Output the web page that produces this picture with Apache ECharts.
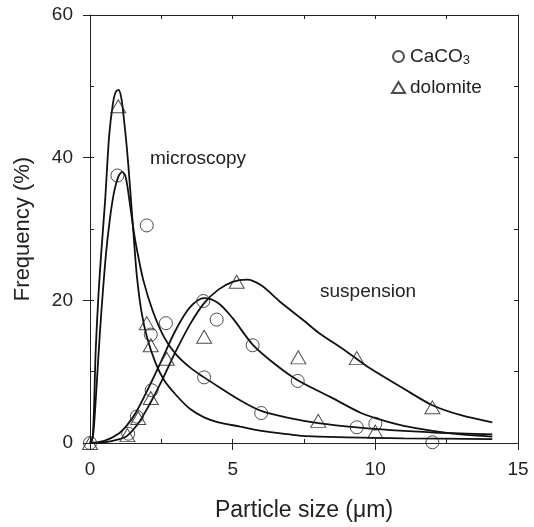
<!DOCTYPE html>
<html><head><meta charset="utf-8">
<script src="https://cdn.jsdelivr.net/npm/echarts@6/dist/echarts.min.js"></script>
<style>html,body{margin:0;padding:0;background:#fff}#c{width:534px;height:527px}</style>
</head><body><div id="c"></div>
<script>
// Data
const xTickLabels = ['0', '5', '10', '15'];
const yTickLabels = ['0', '20', '40', '60'];
const seriesNames = ['CaCO3', 'dolomite'];
const annotations = ['microscopy', 'suspension'];

const caco3Points = [[0,0],[0.96,37.5],[1.99,30.5],[2.13,15.2],[2.66,16.8],[2.16,7.4],[1.64,3.7],[1.34,1.3],[3.97,19.9],[4.44,17.3],[5.70,13.7],[7.28,8.7],[6.0,4.2],[9.35,2.2],[10.0,2.7],[12.0,0.1],[4.0,9.2]];
const dolomitePoints = [[0,0],[0.99,47.2],[1.99,16.8],[2.13,13.7],[2.69,11.8],[2.13,6.3],[1.69,3.5],[1.31,1.1],[5.14,22.6],[4.0,14.9],[7.3,12.0],[9.35,11.9],[8.0,3.1],[10.0,1.6],[12.0,5.0]];

const dolomiteMicroCurve = [[0,0],[0.1,1],[0.2,13],[0.3,21],[0.4,27],[0.53,34],[0.67,43],[0.8,47.5],[0.9,49.2],[1.0,49.5],[1.1,48.3],[1.2,45],[1.3,41],[1.4,36],[1.54,28.5],[1.64,23.5],[1.8,18.5],[2.0,14.8],[2.3,11.2],[2.6,8.8],[3.0,6.8],[3.5,4.8],[4.0,3.6],[4.5,2.9],[5.26,2.3],[6,1.7],[7,1.2],[7.6,0.95],[9,0.8],[11,0.65],[14.1,0.55]];
const caco3MicroCurve = [[0,0],[0.1,0.8],[0.2,6],[0.3,12.5],[0.4,18.5],[0.56,26.5],[0.7,31.5],[0.85,35.3],[1.0,37.4],[1.13,38],[1.25,37.3],[1.4,33.5],[1.54,29.5],[1.65,27],[1.87,22.8],[2.2,18.5],[2.6,14.8],[3.0,12.5],[3.5,10.6],[4.0,9.2],[4.5,7.9],[5.26,6.0],[6.0,4.5],[7,3.5],[8,2.8],[9.35,2.2],[11,1.7],[12.5,1.4],[14.1,1.2]];
const caco3SuspCurve = [[0,0],[0.5,0.3],[1.0,1.3],[1.3,2.5],[1.6,4.2],[2.0,7.3],[2.5,11.5],[3.0,15.8],[3.5,19],[4.0,20.3],[4.5,19.6],[5.0,17.5],[5.7,13.8],[6.5,11],[7.28,8.8],[8.4,6.5],[9.5,4.2],[10,3.5],[11,2.4],[12,1.7],[13,1.2],[14.1,0.9]];
const dolomiteSuspCurve = [[0,0],[0.5,0.1],[1.0,0.5],[1.3,1.0],[1.7,2.8],[2.1,5.5],[2.5,8.6],[3.0,12.8],[3.5,16.6],[4.0,19.6],[4.5,21.5],[5.0,22.6],[5.5,22.9],[6.0,22.1],[6.66,19.8],[7.48,17.2],[8.0,15.5],[9.0,12.8],[9.8,10.5],[11,7.6],[12,5.3],[13,3.9],[14.1,2.9]];

const FONT = '"Liberation Sans", Arial, Helvetica, sans-serif';
const INK = '#222';

const chart = echarts.init(document.getElementById('c'), null, {renderer: 'canvas'});

function curve(data) {
  return {
    type: 'line', data: data, showSymbol: false, smooth: 0.3, silent: true,
    lineStyle: {color: '#111', width: 1.8}, z: 2
  };
}

const option = {
  animation: false,
  backgroundColor: '#fff',
  grid: {left: 90, right: 16, top: 15, bottom: 84, containLabel: false},
  xAxis: [
    {type: 'value', min: 0, max: 15, interval: 5, position: 'bottom',
     axisLine: {show: true, onZero: false, lineStyle: {color: INK, width: 1}},
     axisTick: {show: true, length: 7, lineStyle: {color: INK}},
     axisLabel: {fontSize: 19, color: INK, fontFamily: FONT, margin: 17,
       formatter: v => xTickLabels[Math.round(v / 5)] ?? ''},
     splitLine: {show: false},
     name: 'Particle size (μm)', nameLocation: 'middle', nameGap: 56,
     nameTextStyle: {fontSize: 23, color: INK, fontFamily: FONT}},
    {type: 'value', min: 0, max: 15, interval: 2.5, position: 'bottom',
     axisLine: {show: false, onZero: false},
     axisTick: {show: true, inside: true, length: 4, lineStyle: {color: INK}},
     axisLabel: {show: false}, splitLine: {show: false}},
    {type: 'value', min: 0, max: 15, interval: 2.5, position: 'top',
     axisLine: {show: true, onZero: false, lineStyle: {color: INK, width: 1}},
     axisTick: {show: true, inside: true, length: 4, lineStyle: {color: INK}},
     axisLabel: {show: false}, splitLine: {show: false}}
  ],
  yAxis: [
    {type: 'value', min: 0, max: 60, interval: 20, position: 'left',
     axisLine: {show: true, onZero: false, lineStyle: {color: INK, width: 1}},
     axisTick: {show: true, length: 7, lineStyle: {color: INK}},
     axisLabel: {fontSize: 19, color: INK, fontFamily: FONT, margin: 17,
       formatter: v => yTickLabels[Math.round(v / 20)] ?? ''},
     splitLine: {show: false},
     name: 'Frequency (%)', nameLocation: 'middle', nameGap: 56,
     nameTextStyle: {fontSize: 22, color: INK, fontFamily: FONT}},
    {type: 'value', min: 0, max: 60, interval: 10, position: 'left',
     axisLine: {show: false, onZero: false},
     axisTick: {show: true, inside: true, length: 4, lineStyle: {color: INK}},
     axisLabel: {show: false}, splitLine: {show: false}},
    {type: 'value', min: 0, max: 60, interval: 10, position: 'right',
     axisLine: {show: true, onZero: false, lineStyle: {color: INK, width: 1}},
     axisTick: {show: true, inside: true, length: 4, lineStyle: {color: INK}},
     axisLabel: {show: false}, splitLine: {show: false}}
  ],
  legend: {
    orient: 'vertical', left: 386, top: 42, itemWidth: 13, itemHeight: 11, itemGap: 11,
    selectedMode: false,
    data: [{name: seriesNames[0], icon: 'circle'}, {name: seriesNames[1], icon: 'triangle'}],
    formatter: n => n === 'CaCO3' ? '{b|CaCO}{s|3}' : '{b|' + n + '}',
    textStyle: {color: INK, fontFamily: FONT, fontSize: 19,
      rich: {b: {fontSize: 19, color: INK, fontFamily: FONT},
             s: {fontSize: 13, color: INK, fontFamily: FONT, padding: [8, 0, 0, 0]}}}
  },
  graphic: [
    {type: 'text', left: 150, top: 149, silent: true,
     style: {text: annotations[0], fontSize: 19, fill: INK, fontFamily: FONT}},
    {type: 'text', left: 320, top: 282, silent: true,
     style: {text: annotations[1], fontSize: 19, fill: INK, fontFamily: FONT}}
  ],
  series: [
    curve(dolomiteMicroCurve),
    curve(caco3MicroCurve),
    curve(caco3SuspCurve),
    curve(dolomiteSuspCurve),
    {name: seriesNames[0], type: 'scatter', data: caco3Points, symbol: 'circle', symbolSize: 13,
     itemStyle: {color: 'rgba(0,0,0,0)', borderColor: INK, borderWidth: 1}, z: 3},
    {name: seriesNames[1], type: 'scatter', data: dolomitePoints, symbol: 'triangle', symbolSize: [15, 13],
     itemStyle: {color: 'rgba(0,0,0,0)', borderColor: INK, borderWidth: 1}, z: 3}
  ]
};
chart.setOption(option);
</script>
</body></html>
